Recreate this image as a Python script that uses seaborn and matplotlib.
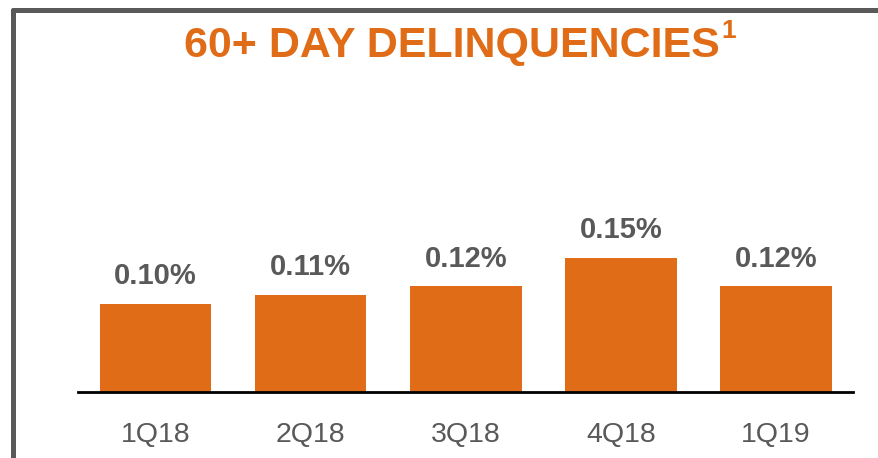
import numpy as np
import pandas as pd
import matplotlib
matplotlib.use("Agg")
import matplotlib.pyplot as plt
import seaborn as sns
from matplotlib.lines import Line2D

quarters = ["1Q18", "2Q18", "3Q18", "4Q18", "1Q19"]
delinq = [0.10, 0.11, 0.12, 0.152, 0.12]
labels = ["0.10%", "0.11%", "0.12%", "0.15%", "0.12%"]

orange = "#E06C17"
grey = "#595959"

sns.set_style("white")
plt.rcParams['font.family'] = ['Liberation Sans', 'DejaVu Sans']

W, H = 879, 458
fig = plt.figure(figsize=(W / 100, H / 100), dpi=100)
ax = fig.add_axes([78 / W, 66 / H, 775.5 / W, 300 / H])

df = pd.DataFrame({"quarter": quarters, "value": delinq})
sns.barplot(data=df, x="quarter", y="value", color=orange, saturation=1,
            width=0.72, linewidth=0, ax=ax)

ax.set_xlim(-0.5, 4.5)
ax.set_ylim(0, 300 / 880)
for s in ["top", "right", "left"]:
    ax.spines[s].set_visible(False)
ax.spines["bottom"].set_color("black")
ax.spines["bottom"].set_linewidth(2)
ax.set_yticks([])
ax.set_xlabel("")
ax.set_ylabel("")
ax.tick_params(axis="x", length=0, pad=21.5, labelsize=20.5, labelcolor=grey)

# value labels above bars
for i, (v, lab) in enumerate(zip(delinq, labels)):
    ax.annotate(lab, (i, v), xytext=(0, 10), textcoords="offset points",
                ha="center", va="bottom", fontsize=21, fontweight="bold",
                color=grey)

# title with superscript
t = fig.text(452 / W, 1 - 46 / H, "60+ DAY DELINQUENCIES", ha="center",
             va="center", fontsize=31, fontweight="bold", color=orange)
fig.canvas.draw()
bb = t.get_window_extent()
fig.text((bb.x1 + 2) / W, bb.y1 / H + 0.016, "1", ha="left", va="top",
         fontsize=19, fontweight="bold", color=orange)

# slide frame
fig.add_artist(Line2D([13.5 / W, 13.5 / W], [0, 1 - 9.5 / H],
                      transform=fig.transFigure, color=grey, lw=3.6,
                      solid_capstyle="round"))
fig.add_artist(Line2D([13.5 / W, 1], [1 - 9.5 / H, 1 - 9.5 / H],
                      transform=fig.transFigure, color=grey, lw=3.6,
                      solid_capstyle="round"))

fig.savefig("out.png", dpi=100)
